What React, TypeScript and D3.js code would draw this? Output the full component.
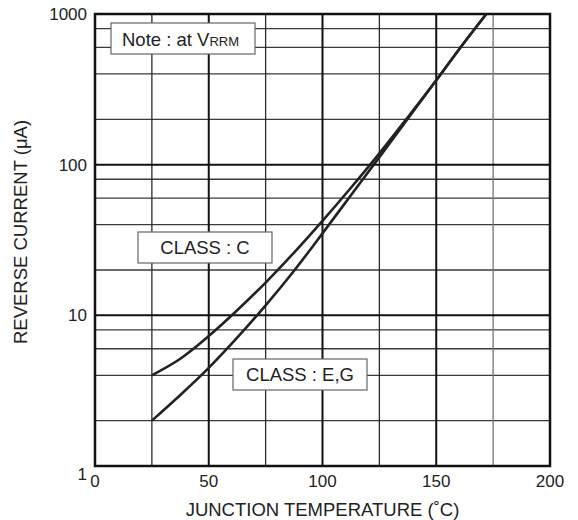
import React, { useEffect, useRef } from 'react';
import * as d3 from 'd3';

// junction temperature (°C) sample points
const temps = [25, 37.5, 50, 62.5, 75, 87.5, 100, 112.5, 125, 137.5, 150, 160, 172];
// reverse current (µA)
const classC = [4.0, 5.15, 7.28, 10.8, 16.5, 26.1, 42.4, 70.3, 118.9, 206.5, 363, 582, 1000];
const classEG = [2.0, 2.96, 4.48, 7.1, 11.64, 19.77, 35.0, 62.7, 112.2, 201.8, 363, 582, 1000];

const xTicks = [0, 50, 100, 150, 200];
const xMinor = [25, 75, 125, 175];
const yTicks = [1, 10, 100, 1000];
const yMinorSteps = [2, 4, 6, 8];

const FONT = '"Liberation Sans", Arial, Helvetica, sans-serif';

export default function App() {
  const svgRef = useRef<SVGSVGElement>(null);

  useEffect(() => {
    if (!svgRef.current) return;
    const svg = d3.select(svgRef.current);
    svg.selectAll('*').remove();

    const W = 578;
    const H = 520;
    const margin = { top: 14, right: 28, bottom: 54, left: 95 };
    const x = d3.scaleLinear().domain([0, 200]).range([margin.left, W - margin.right]);
    const y = d3.scaleLog().domain([1, 1000]).range([H - margin.bottom, margin.top]);

    svg.attr('width', W).attr('height', H).style('font-family', FONT);

    svg.append('rect').attr('width', W).attr('height', H).attr('fill', '#fff');

    const grid = svg.append('g');

    // minor horizontal lines: 2,4,6,8 within each decade
    const yMinor: number[] = [];
    [1, 10, 100].forEach((d) => yMinorSteps.forEach((s) => yMinor.push(d * s)));
    grid
      .selectAll('.hminor')
      .data(yMinor)
      .enter()
      .append('line')
      .attr('x1', x(0))
      .attr('x2', x(200))
      .attr('y1', (d) => y(d))
      .attr('y2', (d) => y(d))
      .attr('stroke', '#3a3a3a')
      .attr('stroke-width', 1.3);

    grid
      .selectAll('.vminor')
      .data(xMinor)
      .enter()
      .append('line')
      .attr('x1', (d) => x(d))
      .attr('x2', (d) => x(d))
      .attr('y1', y(1))
      .attr('y2', y(1000))
      .attr('stroke', (d) => (d === 175 ? '#777' : '#2a2a2a'))
      .attr('stroke-width', 1.3);

    // major grid
    grid
      .selectAll('.hmajor')
      .data([10, 100])
      .enter()
      .append('line')
      .attr('x1', x(0))
      .attr('x2', x(200))
      .attr('y1', (d) => y(d))
      .attr('y2', (d) => y(d))
      .attr('stroke', '#111')
      .attr('stroke-width', 2);

    grid
      .selectAll('.vmajor')
      .data([50, 100, 150])
      .enter()
      .append('line')
      .attr('x1', (d) => x(d))
      .attr('x2', (d) => x(d))
      .attr('y1', y(1))
      .attr('y2', y(1000))
      .attr('stroke', '#111')
      .attr('stroke-width', 2);

    // frame
    svg
      .append('rect')
      .attr('x', x(0))
      .attr('y', y(1000))
      .attr('width', x(200) - x(0))
      .attr('height', y(1) - y(1000))
      .attr('fill', 'none')
      .attr('stroke', '#111')
      .attr('stroke-width', 2.5);

    // curves
    const line = d3
      .line<number>()
      .x((_, i) => x(temps[i]))
      .y((d) => y(d))
      .curve(d3.curveCatmullRom.alpha(0.5));

    [classC, classEG].forEach((series) => {
      svg
        .append('path')
        .attr('d', line(series))
        .attr('fill', 'none')
        .attr('stroke', '#222')
        .attr('stroke-width', 2.6);
    });

    // tick labels
    svg
      .selectAll('.xt')
      .data(xTicks)
      .enter()
      .append('text')
      .attr('x', (d) => x(d))
      .attr('y', 487)
      .attr('text-anchor', 'middle')
      .style('font-size', '17px')
      .style('fill', '#222')
      .text((d) => d);

    svg
      .selectAll('.yt')
      .data(yTicks)
      .enter()
      .append('text')
      .attr('x', 87)
      .attr('y', (d) => y(d) + (d === 1 ? 14 : 6))
      .attr('text-anchor', 'end')
      .style('font-size', '17px')
      .style('fill', '#222')
      .text((d) => d);

    // axis titles
    svg
      .append('text')
      .attr('x', (x(0) + x(200)) / 2)
      .attr('y', 516)
      .attr('text-anchor', 'middle')
      .style('font-size', '18.5px')
      .style('fill', '#222')
      .text('JUNCTION TEMPERATURE (˚C)');

    svg
      .append('text')
      .attr('transform', 'translate(27,232) rotate(-90)')
      .attr('text-anchor', 'middle')
      .style('font-size', '18.5px')
      .style('fill', '#222')
      .text('REVERSE CURRENT (μA)');

    // annotation boxes
    const box = (bx: number, by: number, bw: number, bh: number) =>
      svg
        .append('rect')
        .attr('x', bx)
        .attr('y', by)
        .attr('width', bw)
        .attr('height', bh)
        .attr('fill', '#fff')
        .attr('stroke', '#666')
        .attr('stroke-width', 1.2);

    box(111, 23, 144, 31);
    const note = svg
      .append('text')
      .attr('x', 122)
      .attr('y', 46)
      .style('font-size', '18.5px')
      .style('fill', '#222');
    note.append('tspan').text('Note : at V');
    note.append('tspan').style('font-size', '13px').text('RRM');

    box(138, 232, 134, 31);
    svg
      .append('text')
      .attr('x', 205)
      .attr('y', 254)
      .attr('text-anchor', 'middle')
      .style('font-size', '18.5px')
      .style('fill', '#222')
      .text('CLASS : C');

    box(233, 359, 134, 31);
    svg
      .append('text')
      .attr('x', 300)
      .attr('y', 381)
      .attr('text-anchor', 'middle')
      .style('font-size', '18.5px')
      .style('fill', '#222')
      .text('CLASS : E,G');
  }, []);

  return <svg ref={svgRef} style={{ position: 'absolute', left: 0, top: 0 }}></svg>;
}
